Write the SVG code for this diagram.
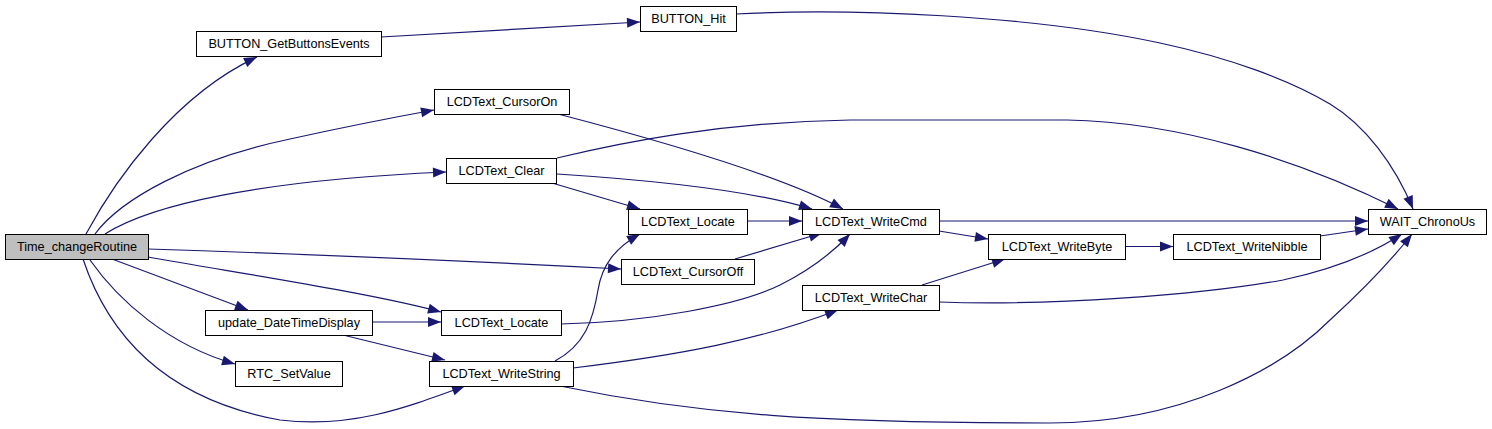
<svg xmlns="http://www.w3.org/2000/svg" width="1492" height="429" viewBox="0 0 1492 429">
<style>
.n rect{fill:#ffffff;stroke:#000000;stroke-width:1}
.n.root rect{fill:#bfbfbf}
.n text{font-family:"Liberation Sans",Arial,sans-serif;font-size:12.7px;fill:#000000;text-anchor:middle}
.e path{fill:none;stroke:#191970;stroke-width:1.2;marker-end:url(#ah)}
</style>
<defs>
<marker id="ah" markerUnits="userSpaceOnUse" markerWidth="14" markerHeight="11" refX="13" refY="5" orient="auto" overflow="visible">
<path d="M0,0 L13,5 L0,10 z" fill="#191970"/>
</marker>
</defs>
<rect width="1492" height="429" fill="#ffffff"/>
<g id="edges" class="e">
<path d="M86,234 C115,180 175,95 257,57"/>
<path d="M381,37 L640,22"/>
<path d="M736,14 C850,8 1030,15 1160,43 C1230,58 1290,80 1330,104 C1365,125 1395,165 1413,209"/>
<path d="M95,234 C120,200 190,160 290,139 C340,128 390,118 434,110"/>
<path d="M105,234 C150,205 260,180 446,172"/>
<path d="M148,249 C300,254 470,261 621,269"/>
<path d="M148,257 C250,275 370,293 441,312"/>
<path d="M112,259 L248,310"/>
<path d="M90,260 C118,300 168,345 235,364"/>
<path d="M83,259 C110,340 170,400 280,420 C350,428 400,410 465,386"/>
<path d="M372,322 L441,322"/>
<path d="M343,335 L445,360"/>
<path d="M558,114 C650,138 780,175 843,209"/>
<path d="M557,174 C650,180 750,190 812,209"/>
<path d="M552,183 L640,209"/>
<path d="M557,158 C620,143 720,122 850,120 L1067,120 C1180,122 1300,160 1398,209"/>
<path d="M747,221 L802,221"/>
<path d="M735,259 L822,233"/>
<path d="M561,324 C650,322 740,305 780,285 C810,270 835,250 850,234"/>
<path d="M555,361 C585,345 593,320 598,290 C602,265 615,248 640,234"/>
<path d="M573,368 C680,355 760,340 838,310"/>
<path d="M560,386 C700,415 820,423 1050,423 C1180,423 1280,370 1330,320 C1365,288 1390,262 1412,234"/>
<path d="M939,221 L1368,221"/>
<path d="M939,231 L988,239"/>
<path d="M922,285 L1005,259"/>
<path d="M939,302 C1050,306 1200,295 1283,280 C1330,270 1370,255 1402,234"/>
<path d="M1125,246.5 L1173,246.5"/>
<path d="M1320,236 L1368,229"/>
</g>
<g id="Time_changeRoutine" class="n root"><rect x="5.5" y="234.5" width="143" height="25"/><text x="77" y="251">Time_changeRoutine</text></g>
<g id="BUTTON_GetButtonsEvents" class="n"><rect x="196.5" y="31.5" width="185" height="25"/><text x="289" y="48">BUTTON_GetButtonsEvents</text></g>
<g id="BUTTON_Hit" class="n"><rect x="640.5" y="6.5" width="96" height="25"/><text x="688.5" y="23">BUTTON_Hit</text></g>
<g id="LCDText_CursorOn" class="n"><rect x="434.5" y="89.5" width="135" height="25"/><text x="502" y="106">LCDText_CursorOn</text></g>
<g id="LCDText_Clear" class="n"><rect x="446.5" y="158.5" width="110" height="25"/><text x="501.5" y="175">LCDText_Clear</text></g>
<g id="LCDText_Locate_1" class="n"><rect x="628.5" y="209.5" width="119" height="25"/><text x="688" y="226">LCDText_Locate</text></g>
<g id="LCDText_CursorOff" class="n"><rect x="621.5" y="259.5" width="133" height="25"/><text x="688" y="276">LCDText_CursorOff</text></g>
<g id="LCDText_Locate_2" class="n"><rect x="441.5" y="310.5" width="120" height="25"/><text x="501.5" y="327">LCDText_Locate</text></g>
<g id="LCDText_WriteString" class="n"><rect x="429.5" y="361.5" width="144" height="25"/><text x="501.5" y="378">LCDText_WriteString</text></g>
<g id="update_DateTimeDisplay" class="n"><rect x="205.5" y="310.5" width="167" height="25"/><text x="289" y="327">update_DateTimeDisplay</text></g>
<g id="RTC_SetValue" class="n"><rect x="235.5" y="361.5" width="107" height="25"/><text x="289" y="378">RTC_SetValue</text></g>
<g id="LCDText_WriteCmd" class="n"><rect x="802.5" y="209.5" width="137" height="25"/><text x="871" y="226">LCDText_WriteCmd</text></g>
<g id="LCDText_WriteByte" class="n"><rect x="988.5" y="234.5" width="137" height="25"/><text x="1057" y="251">LCDText_WriteByte</text></g>
<g id="LCDText_WriteChar" class="n"><rect x="802.5" y="285.5" width="137" height="25"/><text x="871" y="302">LCDText_WriteChar</text></g>
<g id="LCDText_WriteNibble" class="n"><rect x="1173.5" y="234.5" width="147" height="25"/><text x="1247" y="251">LCDText_WriteNibble</text></g>
<g id="WAIT_ChronoUs" class="n"><rect x="1368.5" y="209.5" width="118" height="25"/><text x="1427.5" y="226">WAIT_ChronoUs</text></g>
</svg>
